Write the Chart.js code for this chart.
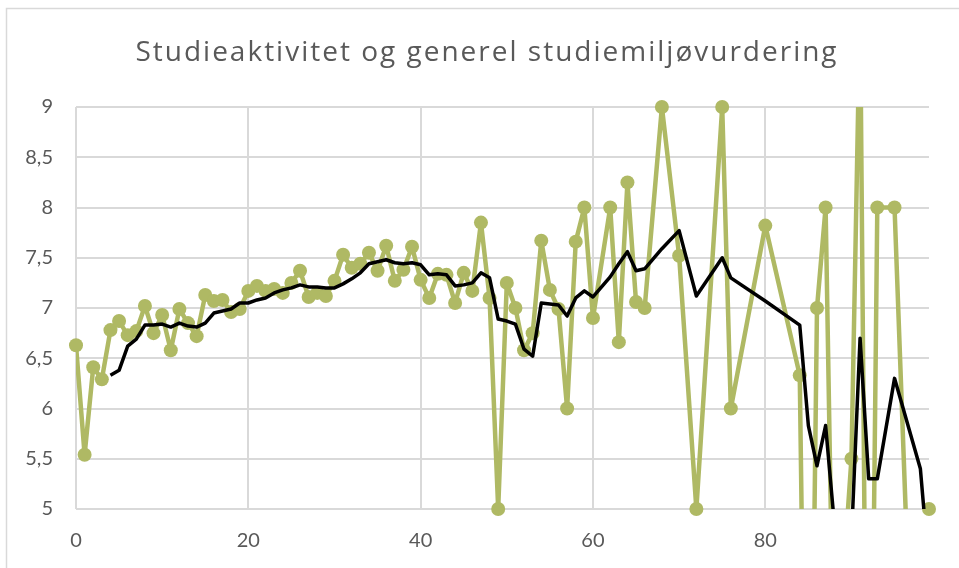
<!DOCTYPE html>
<html>
<head>
<meta charset="utf-8">
<script src="https://cdn.jsdelivr.net/npm/chart.js@4"></script>
<style>
  html, body { margin: 0; padding: 0; background: #fff; }
  #wrap { width: 959px; height: 568px; }
</style>
</head>
<body>
<div id="wrap"><canvas id="myChart"></canvas></div>
<script>
'use strict'

// studieaktivitet (x) and generel studiemiljøvurdering (y)
let activity = [0, 1, 2, 3, 4, 5, 6, 7, 8, 9, 10, 11, 12, 13, 14, 15, 16, 17, 18, 19,
  20, 21, 22, 23, 24, 25, 26, 27, 28, 29, 30, 31, 32, 33, 34, 35, 36, 37, 38, 39,
  40, 41, 42, 43, 44, 45, 46, 47, 48, 49, 50, 51, 52, 53, 54, 55, 56, 57, 58, 59,
  60, 62, 63, 64, 65, 66, 68, 70, 72, 75, 76, 80, 84, 85, 86, 87, 88, 90, 91, 92,
  93, 95, 98, 99];

let rating = [6.63, 5.54, 6.41, 6.29, 6.78, 6.87, 6.73, 6.77, 7.02, 6.75, 6.93, 6.58, 6.99, 6.85, 6.72, 7.13, 7.07, 7.08, 6.96, 6.99,
  7.17, 7.22, 7.17, 7.19, 7.15, 7.25, 7.37, 7.11, 7.15, 7.12, 7.27, 7.53, 7.40, 7.44, 7.55, 7.37, 7.62, 7.27, 7.38, 7.61,
  7.28, 7.10, 7.34, 7.33, 7.05, 7.35, 7.17, 7.85, 7.10, 5.00, 7.25, 7.00, 6.58, 6.75, 7.67, 7.18, 6.99, 6.00, 7.66, 8.00,
  6.90, 8.00, 6.66, 8.25, 7.06, 7.00, 9.00, 7.52, 5.00, 9.00, 6.00, 7.82, 6.33, 0, 7.00, 8.00, 3.00, 5.50, 10.00, 0,
  8.00, 8.00, 1.00, 5.00];

// black trend line (moving average)
let trend = [null, null, null, null, 6.33, 6.38, 6.62, 6.69, 6.83, 6.83, 6.84, 6.81, 6.85, 6.82, 6.81, 6.85, 6.95, 6.97, 6.99, 7.05,
  7.05, 7.08, 7.10, 7.15, 7.18, 7.20, 7.23, 7.21, 7.21, 7.20, 7.20, 7.24, 7.29, 7.35, 7.44, 7.46, 7.48, 7.45, 7.44, 7.45,
  7.43, 7.33, 7.34, 7.33, 7.22, 7.23, 7.25, 7.35, 7.30, 6.89, 6.87, 6.84, 6.59, 6.52, 7.05, 7.04, 7.03, 6.92, 7.10, 7.17,
  7.11, 7.31, 7.44, 7.56, 7.37, 7.39, 7.59, 7.77, 7.12, 7.50, 7.30, 7.07, 6.83, 5.83, 5.43, 5.83, 4.87, 4.70, 6.70, 5.30,
  5.30, 6.30, 5.40, 4.40];

let yTicks = [5, 5.5, 6, 6.5, 7, 7.5, 8, 8.5, 9];
let xTicks = [0, 20, 40, 60, 80];

let chartTitle = 'Studieaktivitet og generel studiemiljøvurdering';

let green = '#AFB964';
let gridGray = '#D9D9D9';
let textGray = '#595959';
let tickFont = "Lato, 'Open Sans', sans-serif";
let titleFont = "'Open Sans', Lato, sans-serif";

let greenPoints = [];
let trendPoints = [];
for (let i = 0; i < activity.length; i++) {
  greenPoints.push({ x: activity[i], y: rating[i] });
  trendPoints.push({ x: activity[i], y: trend[i] });
}

// white background + outer border, and a bit of letter spacing for the title only
let frame = {
  id: 'frame',
  beforeDraw(chart) {
    let c = chart.ctx;
    c.save();
    c.fillStyle = '#fff';
    c.fillRect(0, 0, chart.width, chart.height);
    c.strokeStyle = gridGray;
    c.lineWidth = 1.5;
    c.strokeRect(6.5, 8.5, chart.width + 10, chart.height + 10);
    c.restore();
    c.letterSpacing = '2px';
  },
  beforeDatasetsDraw(chart) {
    chart.ctx.letterSpacing = '0px';
  }
};

let ctx = document.getElementById('myChart').getContext('2d');
let chart = new Chart(ctx, {
  type: 'scatter',
  data: {
    datasets: [
      {
        label: 'trend',
        data: trendPoints,
        showLine: true,
        borderColor: '#000',
        borderWidth: 3.5,
        borderJoinStyle: 'round',
        pointRadius: 0,
        spanGaps: false
      },
      {
        label: 'punkter',
        data: greenPoints,
        showLine: false,
        backgroundColor: green,
        borderWidth: 0,
        pointRadius: (c) => {
          let v = c.raw && c.raw.y;
          return (v >= 5 && v <= 9) ? 7 : 0;
        },
        clip: false
      },
      {
        label: 'linje',
        data: greenPoints,
        showLine: true,
        borderColor: green,
        borderWidth: 4.5,
        borderJoinStyle: 'round',
        pointRadius: 0
      }
    ]
  },
  options: {
    responsive: true,
    maintainAspectRatio: false,
    animation: false,
    events: [],
    // the chart frame runs past the right edge, so the title centre sits right of the canvas centre
    layout: { padding: { left: 0, right: -15, top: 0, bottom: 0 } },
    plugins: {
      legend: { display: false },
      tooltip: { enabled: false },
      title: {
        display: true,
        text: chartTitle,
        color: textGray,
        font: { family: titleFont, size: 28, weight: 'normal', lineHeight: 1.2 },
        padding: { top: 36, bottom: 37.4 }
      }
    },
    scales: {
      x: {
        type: 'linear',
        min: 0,
        max: 99,
        afterFit: (s) => { s.height = 59; },
        afterBuildTicks: (s) => { s.ticks = xTicks.map(v => ({ value: v })); },
        border: { display: false },
        grid: { color: gridGray, lineWidth: 2, drawTicks: false },
        ticks: {
          z: 1,
          color: textGray,
          padding: 20,
          maxRotation: 0,
          font: { family: tickFont, size: 20 }
        }
      },
      y: {
        min: 5,
        max: 9,
        afterFit: (s) => { s.width = 76; },
        afterBuildTicks: (s) => { s.ticks = yTicks.map(v => ({ value: v })); },
        border: { display: false },
        grid: { color: gridGray, lineWidth: 2, drawTicks: false },
        ticks: {
          z: 1,
          color: textGray,
          padding: 23,
          font: { family: tickFont, size: 20 },
          callback: (v) => String(v).replace('.', ',')
        }
      },
      // empty spacer on the right so the plot ends where the reference does
      spacer: {
        position: 'right',
        min: 5,
        max: 9,
        afterFit: (s) => { s.width = 45; },
        border: { display: false },
        grid: { display: false },
        ticks: { display: false }
      }
    }
  },
  plugins: [frame]
});
</script>
</body>
</html>
